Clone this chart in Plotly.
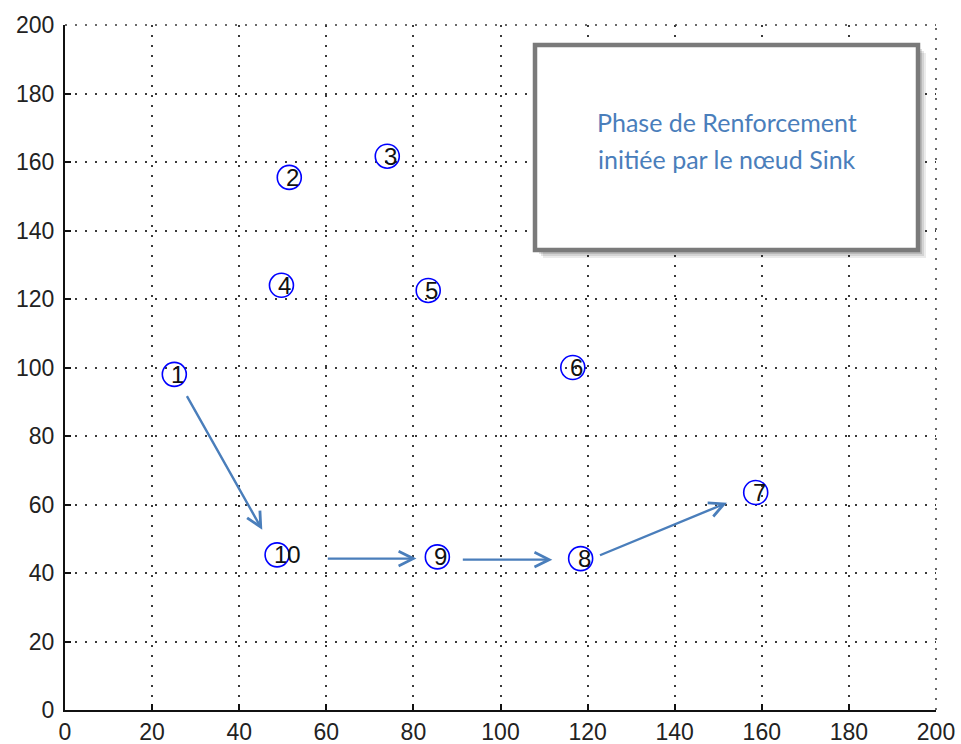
import plotly.graph_objects as go

# Node data
node_ids = ["1", "2", "3", "4", "5", "6", "7", "8", "9", "10"]
node_x = [25.1, 51.5, 74.0, 49.7, 83.4, 116.6, 158.6, 118.4, 85.5, 48.7]
node_y = [98.0, 155.5, 161.7, 124.0, 122.5, 100.0, 63.5, 44.2, 44.7, 45.3]

tick_vals = [0, 20, 40, 60, 80, 100, 120, 140, 160, 180, 200]
tick_text = ["0", "20", "40", "60", "80", "100", "120", "140", "160", "180", "200"]

# Reinforcement path arrows (start x, start y, end x, end y)
arrow_start_x = [27.8, 60.0, 91.0, 122.5]
arrow_start_y = [92.1, 44.2, 43.9, 45.0]
arrow_end_x = [45.3, 80.7, 111.9, 152.0]
arrow_end_y = [52.6, 44.2, 43.9, 60.5]

box_lines = ["Phase de Renforcement", "initiée par le nœud Sink"]

W, H = 961, 744
ML, MR, MT, MB = 65, 25, 25, 34
PW, PH = W - ML - MR, H - MT - MB

GRID_DASH = "2px,8px"
GRID_COLOR = "#3a3a3a"
GRID_W = 1.5

fig = go.Figure()
fig.add_trace(go.Scatter(
    x=node_x, y=node_y, mode="markers",
    marker=dict(symbol="circle-open", size=24, color="#0000ff", line=dict(width=1.6, color="#0000ff")),
    showlegend=False, hoverinfo="skip",
))

annotations = []
for nid, xx, yy in zip(node_ids, node_x, node_y):
    annotations.append(dict(x=xx, y=yy, xref="x", yref="y", text=nid, showarrow=False,
                            xanchor="left", yanchor="middle", xshift=-5,
                            font=dict(family="Liberation Sans", size=24, color="#111111")))

for sx, sy, ex, ey in zip(arrow_start_x, arrow_start_y, arrow_end_x, arrow_end_y):
    annotations.append(dict(x=ex, y=ey, ax=sx, ay=sy, xref="x", yref="y", axref="x", ayref="y",
                            text="", showarrow=True, arrowhead=5, arrowsize=1.2, arrowwidth=2.4,
                            arrowcolor="#4a7ebb", standoff=0, startstandoff=0))

# box geometry in paper coords (page pixels)
bx0, bx1 = (535 - ML) / PW, (918 - ML) / PW
by0, by1 = (H - MB - 250) / PH, (H - MB - 45) / PH
bxc = (bx0 + bx1) / 2
line_py = [122, 159]
for txt, py in zip(box_lines, line_py):
    annotations.append(dict(x=bxc, y=(H - MB - py) / PH, xref="paper", yref="paper", text=txt,
                            showarrow=False, xanchor="center", yanchor="middle",
                            font=dict(family="Lato", size=25, color="#4a7ebb")))

shapes = []
for i, op in enumerate([0.08, 0.10, 0.13, 0.16]):
    off = (4 - i) * 2
    shapes.append(dict(type="rect", xref="paper", yref="paper",
                       x0=bx0 + off / PW, x1=bx1 + off / PW,
                       y0=by0 - off / PH, y1=by1 - off / PH,
                       fillcolor="rgba(0,0,0,%.2f)" % op, line=dict(width=0), layer="above"))
shapes.append(dict(type="rect", xref="paper", yref="paper", x0=bx0, x1=bx1, y0=by0, y1=by1,
                   fillcolor="white", line=dict(color="#7a7a7a", width=4.5), layer="above"))
shapes.append(dict(type="line", xref="paper", yref="paper", x0=0, x1=1, y0=1, y1=1,
                   line=dict(color=GRID_COLOR, width=GRID_W, dash=GRID_DASH), layer="below"))
shapes.append(dict(type="line", xref="paper", yref="paper", x0=1, x1=1, y0=0, y1=1,
                   line=dict(color=GRID_COLOR, width=GRID_W, dash=GRID_DASH), layer="below"))
fig.update_layout(shapes=shapes, annotations=annotations)

axis_common = dict(
    range=[0, 200], tickmode="array", tickvals=tick_vals, ticktext=tick_text,
    showgrid=True, gridcolor=GRID_COLOR, gridwidth=GRID_W, griddash=GRID_DASH,
    zeroline=False, showline=True, linecolor="#111111", linewidth=2,
    ticks="inside", ticklen=6, tickcolor="#111111", tickwidth=1.5,
    tickfont=dict(family="Liberation Sans", size=23, color="#222222"),
    fixedrange=True, automargin=False,
)
fig.update_xaxes(**axis_common)
fig.update_yaxes(**axis_common, ticklabelstandoff=4)

fig.update_layout(
    width=W, height=H,
    margin=dict(l=ML, r=MR, t=MT, b=MB),
    paper_bgcolor="white", plot_bgcolor="white",
    showlegend=False,
)

fig.write_html("out.html", config={"displayModeBar": False},
               post_script="document.body.style.margin='0';document.body.style.overflow='hidden';")
